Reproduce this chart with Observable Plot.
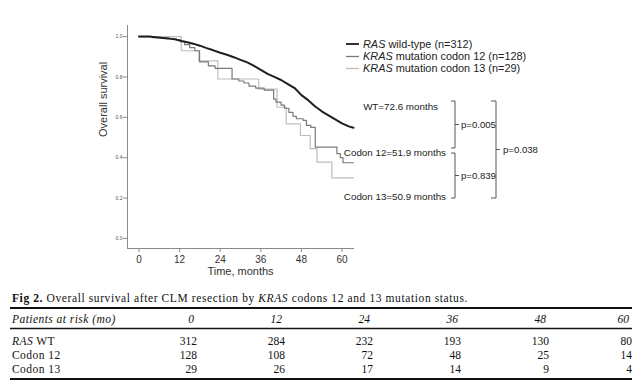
<!DOCTYPE html>
<html>
<head>
<meta charset="utf-8">
<script src="https://cdn.jsdelivr.net/npm/d3@7"></script>
<script src="https://cdn.jsdelivr.net/npm/@observablehq/plot@0.6"></script>
<style>
  html, body { margin: 0; padding: 0; background: #fff; }
  #wrap { position: relative; width: 636px; height: 390px; overflow: hidden; }
  #chart { position: absolute; left: 0; top: 0; }
  #overlay { position: absolute; left: 0; top: 0; }
</style>
</head>
<body>
<div id="wrap">
  <div id="chart"></div>
  <svg id="overlay" width="636" height="390"></svg>
</div>
<script>
// ---- Survival curve data (months, survival probability) ----
const wtTime  = [0, 3, 5, 7, 9, 11, 12.5, 14, 16, 18, 20, 22, 24, 26, 28, 30, 32, 34, 36, 38, 40, 42, 44, 46, 48, 50, 52, 54, 56, 58, 60, 62, 63.4];
const wtSurv  = [1.0, 1.0, 0.997, 0.993, 0.99, 0.985, 0.978, 0.973, 0.965, 0.955, 0.943, 0.932, 0.92, 0.91, 0.898, 0.885, 0.872, 0.855, 0.835, 0.815, 0.80, 0.785, 0.765, 0.745, 0.71, 0.685, 0.655, 0.63, 0.61, 0.59, 0.57, 0.555, 0.548];

const c12Time = [0, 4, 8, 11, 12.3, 13.5, 15, 16.5, 17.9, 20.5, 22.5, 27.5, 29.5, 31, 32.5, 34.5, 37, 39.8, 40.5, 42, 43, 44.3, 45.5, 46.5, 48.5, 49.5, 50.8, 52.1, 58.5, 59.5, 60.3, 63.4];
const c12Surv = [1.0, 0.995, 0.99, 0.984, 0.975, 0.96, 0.945, 0.93, 0.875, 0.855, 0.843, 0.79, 0.78, 0.77, 0.755, 0.745, 0.735, 0.69, 0.675, 0.66, 0.645, 0.625, 0.605, 0.593, 0.585, 0.56, 0.55, 0.452, 0.42, 0.40, 0.375, 0.375];

const c13Time = [0, 12.5, 17.7, 23.3, 35.4, 40.8, 43.5, 47.7, 50.6, 52.6, 57.0, 63.4];
const c13Surv = [1.0, 0.93, 0.88, 0.79, 0.74, 0.65, 0.568, 0.51, 0.445, 0.378, 0.30, 0.30];

// ---- Axis ticks ----
const xTicks = [0, 12, 24, 36, 48, 60];
const yTicks = [0, 0.2, 0.4, 0.6, 0.8, 1.0];

// ---- Legend / annotation text ----
const seriesNames = ["RAS", "KRAS", "KRAS"];
const seriesRest = [" wild-type (n=312)", " mutation codon 12 (n=128)", " mutation codon 13 (n=29)"];
const seriesColors = ["#1e1e1e", "#7a7a7a", "#bdbdbd"];
const medianLabels = ["WT=72.6 months", "Codon 12=51.9 months", "Codon 13=50.9 months"];
const pLabels = ["p=0.005", "p=0.839", "p=0.038"];

// ---- Patients at risk table ----
const riskTimes = [0, 12, 24, 36, 48, 60];
const riskGroups = ["RAS WT", "Codon 12", "Codon 13"];
const riskWT  = [312, 284, 232, 193, 130, 80];
const risk12  = [128, 108, 72, 48, 25, 14];
const risk13  = [29, 26, 17, 14, 9, 4];

const toRows = (t, s, g) => t.map((d, i) => ({time: d, surv: s[i], group: g}));
const wt = toRows(wtTime, wtSurv, "WT");
const c12 = toRows(c12Time, c12Surv, "C12");
const c13 = toRows(c13Time, c13Surv, "C13");

const chart = Plot.plot({
  width: 636,
  height: 285,
  marginLeft: 127,
  marginRight: 283,
  marginTop: 25,
  marginBottom: 37,
  style: {fontFamily: "'Liberation Sans', Arial, sans-serif", background: "#fff", color: "#222"},
  x: {domain: [-3.4, 63.4]},
  y: {domain: [-0.05, 1.055]},
  marks: [
    Plot.frame({anchor: "left", stroke: "#8a8a8a"}),
    Plot.frame({anchor: "bottom", stroke: "#8a8a8a"}),
    Plot.axisX({ticks: xTicks, tickSize: 4, tickPadding: 3, fontSize: 10, stroke: "#8a8a8a", fill: "#333", label: null}),
    Plot.axisY({ticks: yTicks, tickSize: 4, tickPadding: 1, fontSize: 5, stroke: "#8a8a8a", fill: "#555", tickFormat: d3.format(".1f"), label: null}),
    Plot.text(["Time, months"], {frameAnchor: "bottom", dy: 26, fontSize: 11, fill: "#333"}),
    Plot.text(["Overall survival"], {frameAnchor: "left", dx: -24, rotate: -90, fontSize: 11, fill: "#333"}),
    Plot.line(c13, {x: "time", y: "surv", curve: "step-after", stroke: seriesColors[2], strokeWidth: 1.2}),
    Plot.line(c12, {x: "time", y: "surv", curve: "step-after", stroke: seriesColors[1], strokeWidth: 1.2}),
    Plot.line(wt, {x: "time", y: "surv", curve: "linear", stroke: seriesColors[0], strokeWidth: 2})
  ]
});
document.getElementById("chart").appendChild(chart);

// ---- Overlay: legend, annotations, caption, table ----
const svg = d3.select("#overlay");
const sans = "'Liberation Sans', Arial, sans-serif";
const serif = "'Liberation Serif', 'Times New Roman', serif";

// legend
const legendY = [44, 56.5, 68.5];
seriesNames.forEach((n, i) => {
  svg.append("line").attr("x1", 346).attr("x2", 359).attr("y1", legendY[i]).attr("y2", legendY[i])
    .attr("stroke", seriesColors[i]).attr("stroke-width", i === 0 ? 1.8 : 1.3);
  const t = svg.append("text").attr("x", 363).attr("y", legendY[i] + 3.8)
    .attr("font-family", sans).attr("font-size", 10.9).attr("fill", "#222");
  t.append("tspan").attr("font-style", "italic").text(n);
  t.append("tspan").text(seriesRest[i]);
});

// median labels
const medPos = [[438, 106], [446, 152], [446, 196]];
medianLabels.forEach((m, i) => {
  svg.append("text").attr("x", medPos[i][0]).attr("y", medPos[i][1] + 3.5)
    .attr("text-anchor", "end").attr("font-family", sans).attr("font-size", 9.8)
    .attr("fill", "#222").attr("xml:space", "preserve").text(m);
});

// brackets
function bracket(x, y1, y2, hook) {
  const ym = (y1 + y2) / 2;
  svg.append("path")
    .attr("d", `M${x - hook},${y1}H${x}V${y2}H${x - hook}M${x},${ym}H${x + 4}`)
    .attr("fill", "none").attr("stroke", "#444").attr("stroke-width", 0.9);
  return ym;
}
const b1 = bracket(455, 101, 148, 4);
const b2 = bracket(455, 153, 198, 4);
const b3 = bracket(496, 101, 198, 5);
[[461, b1], [461, b2], [503, b3]].forEach(([x, y], i) => {
  svg.append("text").attr("x", x).attr("y", y + 3.4)
    .attr("font-family", sans).attr("font-size", 9.6).attr("fill", "#222").text(pLabels[i]);
});

// caption
const cap = svg.append("text").attr("x", 12).attr("y", 302)
  .attr("font-family", serif).attr("font-size", 11.5).attr("letter-spacing", 0.6).attr("fill", "#111");
cap.append("tspan").attr("font-weight", "bold").text("Fig 2.");
cap.append("tspan").text(" Overall survival after CLM resection by ");
cap.append("tspan").attr("font-style", "italic").text("KRAS");
cap.append("tspan").text(" codons 12 and 13 mutation status.");

// table rules
[[308, 1.8], [328.5, 1.4], [379, 1.8]].forEach(([y, w]) => {
  svg.append("line").attr("x1", 10).attr("x2", 632).attr("y1", y).attr("y2", y)
    .attr("stroke", "#111").attr("stroke-width", w);
});

const colRight = [197, 285, 373, 461, 549, 632];
const rowY = [341, 355, 369];
const rowVals = [riskWT, risk12, risk13];
const tfs = 11.5, tls = 0.45;

// header
svg.append("text").attr("x", 12).attr("y", 319 + 4)
  .attr("font-family", serif).attr("font-size", tfs).attr("letter-spacing", tls).attr("font-style", "italic").attr("fill", "#111")
  .text("Patients at risk (mo)");
riskTimes.forEach((t, j) => {
  svg.append("text").attr("x", colRight[j] - 3).attr("y", 319 + 4).attr("text-anchor", "end")
    .attr("font-family", serif).attr("font-size", tfs).attr("font-style", "italic").attr("fill", "#111")
    .text(t);
});

// rows
riskGroups.forEach((g, i) => {
  const t = svg.append("text").attr("x", 12).attr("y", rowY[i] + 4)
    .attr("font-family", serif).attr("font-size", tfs).attr("letter-spacing", tls).attr("fill", "#111");
  if (i === 0) {
    t.append("tspan").attr("font-style", "italic").text("RAS");
    t.append("tspan").text(" WT");
  } else {
    t.text(g);
  }
  rowVals[i].forEach((v, j) => {
    svg.append("text").attr("x", colRight[j]).attr("y", rowY[i] + 4).attr("text-anchor", "end")
      .attr("font-family", serif).attr("font-size", tfs).attr("fill", "#111").text(v);
  });
});
</script>
</body>
</html>
